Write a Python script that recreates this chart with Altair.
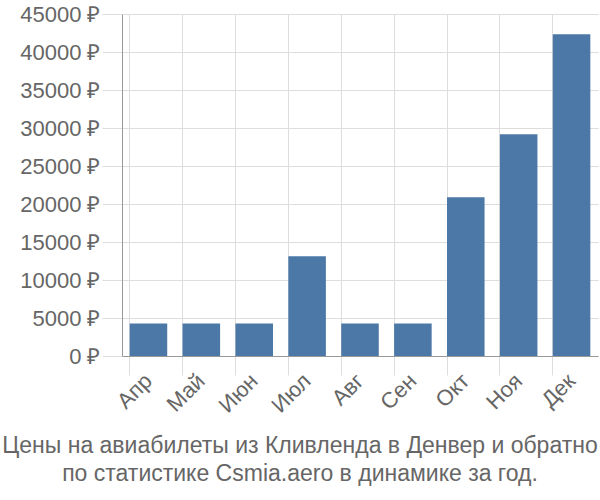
import altair as alt
import pandas as pd

months = ["Апр", "Май", "Июн", "Июл", "Авг", "Сен", "Окт", "Ноя", "Дек"]
prices = [4260, 4260, 4260, 13120, 4260, 4260, 20880, 29170, 42330]
title_lines = ["Цены на авиабилеты из Кливленда в Денвер и обратно",
               "по статистике Csmia.aero в динамике за год."]

df = pd.DataFrame({"month": months, "price": prices})

chart = alt.Chart(df).mark_bar(color="#4c78a8").encode(
    x=alt.X("month:N", sort=months, title=None,
            scale=alt.Scale(paddingInner=0.29, paddingOuter=0.145),
            axis=alt.Axis(labelAngle=-45, labelFontSize=22, labelColor="#666",
                          labelFont="Liberation Sans", tickSize=19, tickColor="#ddd",
                          domainColor="#999", grid=True, gridColor="#ddd",
                          bandPosition=0, labelPadding=2, labelAlign="right",
                          labelBaseline="middle")),
    y=alt.Y("price:Q", title=None,
            scale=alt.Scale(domain=[0, 45000], nice=False),
            axis=alt.Axis(values=list(range(0, 45001, 5000)),
                          labelExpr="format(datum.value, 'd') + ' ₽'",
                          labelFontSize=22, labelColor="#666", labelFont="Liberation Sans",
                          tickSize=20, tickColor="#ddd", domainColor="#999",
                          gridColor="#ddd", labelPadding=2)),
).properties(
    width=476, height=342,
    padding={"left": 122, "top": 14, "right": 2, "bottom": 144},
    autosize=alt.AutoSizeParams(type="none"),
    title=alt.TitleParams(text=title_lines, orient="bottom", fontSize=23,
                          font="Liberation Sans", fontWeight="normal",
                          color="#666", dx=-60, offset=19, lineHeight=28),
).configure_view(stroke=None)

chart.save("out.html", embed_options={"renderer": "svg", "actions": False})
